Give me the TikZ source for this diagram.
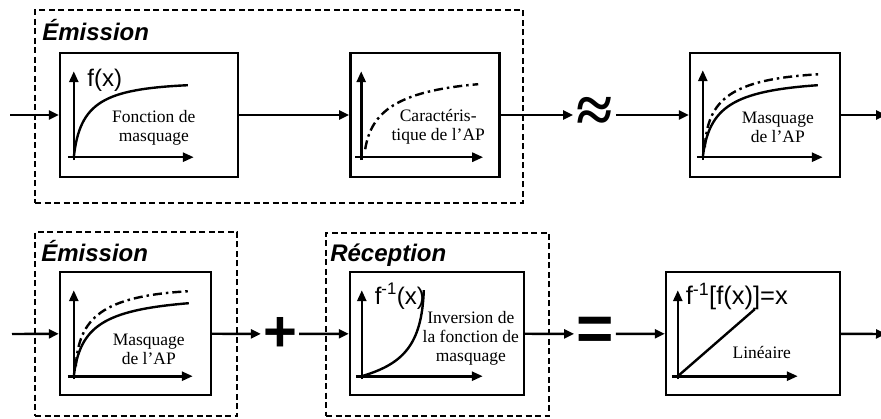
\documentclass[tikz,border=0pt]{standalone}
\usepackage{fontspec}
\setmainfont{Liberation Serif}
\setsansfont{Liberation Sans}
\usetikzlibrary{
    arrows.meta,
    positioning
}

\begin{document}
\begin{tikzpicture}[
    x=1pt, y=1pt,
    block/.style={
        rectangle,
        draw,
        line width=2.4pt,
        minimum height=124pt,
        inner sep=0pt
    },
    frame/.style={
        rectangle,
        draw,
        line width=1.8pt,
        dash pattern=on 6pt off 3.5pt,
        inner sep=0pt
    },
    title/.style={
        font=\fontsize{24}{24}\selectfont\sffamily\bfseries\itshape,
        anchor=base west,
        inner sep=0pt
    },
    txt/.style={
        font=\fontsize{17.5}{19}\selectfont,
        align=center,
        inner sep=0pt
    },
    func/.style={
        font=\fontsize{24}{24}\selectfont\sffamily,
        inner sep=0pt
    },
    sym/.style={
        font=\fontsize{#1}{#1}\selectfont\sffamily\bfseries,
        inner sep=2pt
    },
    arrow/.style={
        -{Triangle[length=10pt,width=9pt]},
        line width=2.4pt
    },
    axis/.style={
        -{Triangle[length=11pt,width=9pt]},
        line width=2.6pt
    },
    curve/.style={
        line width=2.4pt
    },
    dashdot/.style={
        line width=2.4pt,
        dash pattern=on 9pt off 4pt on 2.5pt off 4pt
    }
]
\clip (0,0) rectangle (881,418);

% Ligne du haut
\coordinate (entree) at (10,303);
\node[block, minimum width=178pt] (fonction) at (149,303) {};
\node[block, minimum width=149pt, right=110pt of fonction] (carac) {};
\node[inner sep=3pt, font=\fontsize{66}{66}\selectfont\rmfamily\bfseries] (approx) at (594.5,303) {≈};
\node[block, minimum width=150pt] (masquage) at (765,303) {};
\coordinate (sortie) at (886,303);

\node[frame, minimum width=488pt, minimum height=193pt] (emission) at (279,311.5) {};
\node[title] (emissionlbl) at ([shift={(8,-31)}]emission.north west) {Émission};

% Ligne du bas
\coordinate (entreeb) at (12,84);
\node[block, minimum width=151pt, minimum height=123pt] (masquageb) at (135.5,84.5) {};
\node[sym=58] (plus) at (280,84) {+};
\node[block, minimum width=174pt, minimum height=123pt] (inversion) at (437,84.5) {};
\node[sym=64] (egal) at (595,84) {=};
\node[block, minimum width=174pt, minimum height=123pt] (lineaire) at (753,84.5) {};
\coordinate (sortieb) at (886,84);

\node[frame, minimum width=202pt, minimum height=184pt] (emissionb) at (136,94) {};
\node[title] (emissionblbl) at ([shift={(7,-30)}]emissionb.north west) {Émission};
\node[frame, minimum width=223pt, minimum height=183pt] (reception) at (437.5,93.5) {};
\node[title] (receptionlbl) at ([shift={(5,-29)}]reception.north west) {Réception};

% Courbes dans les blocs
\coordinate (o1) at ([shift={(15,21)}]fonction.south west);
\begin{scope}[shift={(o1)}]
  \draw[axis] (0,-3) -- (0,86);
  \draw[axis] (-6,0) -- (120,0);
  \draw[curve] (0,0) .. controls (6,55) and (30,68) .. (114,72);
  \node[func] (fx) at (31,77) {f(x)};
  \node[txt] (fonctiontxt) at (80,29) {Fonction de\\masquage};
\end{scope}

\coordinate (o2) at ([shift={(12,21)}]carac.south west);
\begin{scope}[shift={(o2)}]
  \draw[axis] (0,-3) -- (0,86);
  \draw[axis] (-6,0) -- (122,0);
  \draw[dashdot] (4,8) .. controls (10,45) and (35,66) .. (117,73);
  \node[txt] (caractxt) at (77,30) {Caractéris-\\tique de l’AP};
\end{scope}

\coordinate (o3) at ([shift={(14,21)}]masquage.south west);
\begin{scope}[shift={(o3)}]
  \draw[axis] (0,-3) -- (0,87);
  \draw[axis] (-6,0) -- (120,0);
  \draw[curve] (0,0) .. controls (6,50) and (30,66) .. (115,72);
  \draw[dashdot] (2,10) .. controls (5,58) and (28,78) .. (117,83);
  \node[txt] (masquagetxt) at (75,30) {Masquage\\de l’AP};
\end{scope}

\coordinate (o4) at ([shift={(15,20)}]masquageb.south west);
\begin{scope}[shift={(o4)}]
  \draw[axis] (0,-3) -- (0,86);
  \draw[axis] (-6,0) -- (119,0);
  \draw[curve] (0,0) .. controls (6,50) and (30,66) .. (115,73);
  \draw[dashdot] (2,10) .. controls (5,58) and (28,80) .. (115,85);
  \node[txt] (masquagebtxt) at (75,27) {Masquage\\de l’AP};
\end{scope}

\coordinate (o5) at ([shift={(13,20)}]inversion.south west);
\begin{scope}[shift={(o5)}]
  \draw[axis] (0,-3) -- (0,86);
  \draw[axis] (-6,0) -- (121,0);
  \draw[curve] (0,0) .. controls (40,12) and (60,30) .. (62,86);
  \node[func] (finv) at (38,80) {f\textsuperscript{-1}(x)};
  \node[txt] (inversiontxt) at (109,38) {Inversion de\\la fonction de\\masquage};
\end{scope}

\coordinate (o6) at ([shift={(13,20)}]lineaire.south west);
\begin{scope}[shift={(o6)}]
  \draw[axis] (0,-3) -- (0,86);
  \draw[axis] (-6,0) -- (120,0);
  \draw[curve] (0,0) -- (77,67);
  \node[func, font=\fontsize{25.5}{25.5}\selectfont\sffamily] (ffinv) at (59,80) {f\textsuperscript{-1}[f(x)]=x};
  \node[txt] (lineairetxt) at (84,24) {Linéaire};
\end{scope}

% Liaisons
\draw[arrow] (entree) -- (fonction);
\draw[arrow] (fonction) -- (carac);
\draw[arrow] (carac) -- (approx);
\draw[arrow] (approx) -- (masquage);
\draw[arrow] (masquage) -- (sortie);

\draw[arrow] (entreeb) -- (masquageb);
\draw[arrow] (masquageb) -- (plus);
\draw[arrow] (plus) -- (inversion);
\draw[arrow] (inversion) -- (egal);
\draw[arrow] (egal) -- (lineaire);
\draw[arrow] (lineaire) -- (sortieb);

\end{tikzpicture}
\end{document}
